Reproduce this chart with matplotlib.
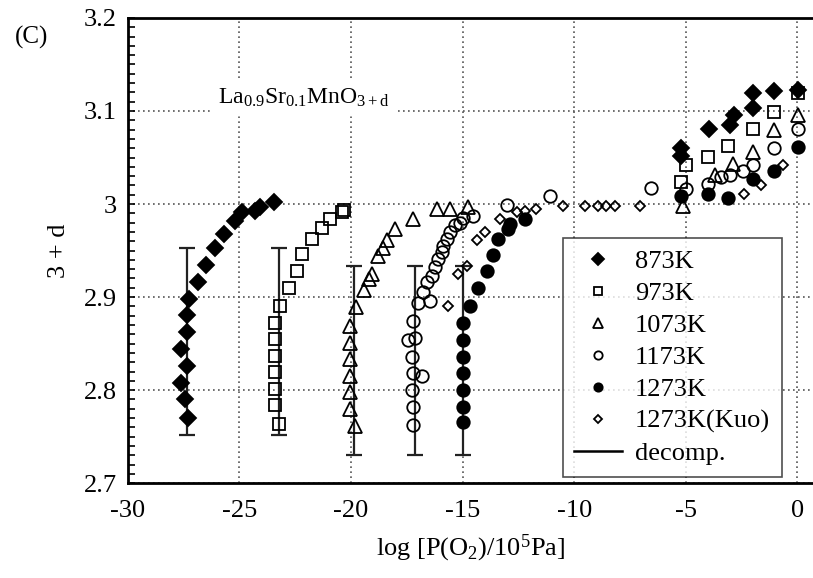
import numpy as np
import matplotlib
matplotlib.use("Agg")
import matplotlib.pyplot as plt
from matplotlib.lines import Line2D
from matplotlib.ticker import MultipleLocator

plt.rcParams['font.family'] = ['Liberation Serif', 'DejaVu Serif']
plt.rcParams['mathtext.fontset'] = 'custom'
plt.rcParams['mathtext.rm'] = 'Liberation Serif'
plt.rcParams['mathtext.it'] = 'Liberation Serif:italic'

# log pO2 and 3+d
x_873 = [-27.30, -27.41, -27.63, -27.36, -27.63, -27.36, -27.36, -27.26, -26.84, -26.47,
         -26.07, -25.69, -25.17, -24.87, -24.28, -24.05, -23.46,
         -5.20, -5.20, -3.94, -3.04, -2.82, -2.00, -2.00, -1.03, 0.01]
y_873 = [2.770, 2.790, 2.808, 2.826, 2.844, 2.862, 2.881, 2.898, 2.916, 2.934,
         2.953, 2.968, 2.982, 2.991, 2.993, 2.997, 3.002,
         3.060, 3.052, 3.081, 3.085, 3.096, 3.119, 3.103, 3.121, 3.123]

x_973 = [-23.24, -23.38, -23.38, -23.38, -23.38, -23.38, -23.38, -23.16, -22.79, -22.41,
         -22.19, -21.74, -21.30, -20.93, -20.40, -20.33,
         -5.20, -4.98, -4.01, -3.12, -2.00, -1.03, 0.01]
y_973 = [2.764, 2.784, 2.801, 2.819, 2.837, 2.855, 2.872, 2.890, 2.910, 2.928,
         2.946, 2.962, 2.974, 2.984, 2.991, 2.994,
         3.024, 3.042, 3.051, 3.062, 3.081, 3.099, 3.119]

x_1073 = [-19.81, -20.03, -20.03, -20.03, -20.03, -20.03, -20.03, -19.76, -19.43, -19.21,
          -19.06, -18.77, -18.54, -18.39, -18.02, -17.20, -16.16, -15.56, -14.74,
          -5.13, -3.71, -2.90, -2.00, -1.03, 0.01]
y_1073 = [2.761, 2.780, 2.798, 2.815, 2.833, 2.851, 2.869, 2.889, 2.908, 2.919,
          2.925, 2.944, 2.953, 2.961, 2.973, 2.984, 2.995, 2.995, 2.997,
          2.998, 3.031, 3.043, 3.056, 3.080, 3.096]

x_1173 = [-17.20, -17.20, -17.27, -17.20, -16.83, -17.27, -17.42, -17.13, -17.20, -16.98,
          -16.46, -16.76, -16.61, -16.38, -16.23, -16.08, -15.93, -15.86, -15.71, -15.56,
          -15.34, -15.11, -14.96, -14.51, -13.02, -11.09, -6.55,
          -4.98, -4.01, -3.42, -3.04, -2.45, -2.00, -1.03, 0.01]
y_1173 = [2.763, 2.782, 2.800, 2.818, 2.815, 2.836, 2.854, 2.856, 2.874, 2.894,
          2.896, 2.905, 2.916, 2.923, 2.932, 2.941, 2.948, 2.955, 2.962, 2.970,
          2.977, 2.980, 2.985, 2.987, 2.999, 3.009, 3.017,
          3.016, 3.022, 3.029, 3.031, 3.036, 3.042, 3.060, 3.081]

x_1273 = [-14.96, -14.96, -14.96, -14.96, -14.96, -14.96, -14.96, -14.67, -14.30, -13.92,
          -13.62, -13.40, -12.95, -12.88, -12.21,
          -5.20, -4.01, -3.12, -2.00, -1.03, 0.01]
y_1273 = [2.766, 2.782, 2.800, 2.818, 2.836, 2.854, 2.872, 2.890, 2.910, 2.928,
          2.945, 2.962, 2.973, 2.979, 2.984,
          3.009, 3.011, 3.007, 3.027, 3.036, 3.061]

x_kuo = [-15.64, -15.19, -14.81, -14.37, -14.00, -13.32, -12.58, -12.21, -11.69, -10.50,
         -9.53, -8.93, -8.56, -8.18, -7.07, -2.37, -1.63, -0.66]
y_kuo = [2.890, 2.925, 2.933, 2.961, 2.970, 2.984, 2.991, 2.993, 2.995, 2.998,
         2.998, 2.998, 2.998, 2.998, 2.998, 3.011, 3.020, 3.042]

# decomposition ranges
dec_x = [-27.33, -23.24, -19.85, -17.13, -14.97]
dec_lo = [2.752, 2.752, 2.730, 2.730, 2.730]
dec_hi = [2.953, 2.953, 2.933, 2.933, 2.933]

fig = plt.figure(figsize=(8.13, 5.78), dpi=100)
ax = fig.add_axes([0.157, 0.164, 0.843, 0.805])

dec_x = np.array(dec_x)
dec_lo = np.array(dec_lo)
dec_hi = np.array(dec_hi)
ax.errorbar(dec_x, (dec_lo + dec_hi) / 2, yerr=(dec_hi - dec_lo) / 2, fmt='none',
            ecolor='#222222', elinewidth=1.6, capsize=6, capthick=1.6, zorder=2)

mk = dict(linestyle='none', color='black', markeredgewidth=1.3, zorder=3)
ax.plot(x_873, y_873, marker='D', ms=8, mfc='black', **mk)
ax.plot(x_973, y_973, marker='s', ms=8.5, mfc='none', **mk)
ax.plot(x_1073, y_1073, marker='^', ms=10.5, mfc='none', **mk)
ax.plot(x_1173, y_1173, marker='o', ms=9, mfc='none', **mk)
ax.plot(x_1273, y_1273, marker='o', ms=9, mfc='black', **mk)
ax.plot(x_kuo, y_kuo, marker='D', ms=5, mfc='none', **mk)

ax.set_xlim(-30, 0.7)
ax.set_ylim(2.7, 3.2)
ax.set_xticks([-30, -25, -20, -15, -10, -5, 0])
ax.set_xticklabels(['-30', '-25', '-20', '-15', '-10', '-5', '0'])
ax.set_yticks([2.7, 2.8, 2.9, 3.0, 3.1, 3.2])
ax.set_yticklabels(['2.7', '2.8', '2.9', '3', '3.1', '3.2'])
ax.yaxis.set_minor_locator(MultipleLocator(0.01))
ax.tick_params(axis='y', which='both', direction='in', length=5, width=1.2, labelsize=19, pad=8)
ax.tick_params(axis='x', which='both', length=0, labelsize=19, pad=12)
ax.grid(True, which='major', linestyle=(0, (1, 2)), color='#555555', linewidth=1.2)
ax.set_axisbelow(True)

for s in ['left', 'bottom', 'top']:
    ax.spines[s].set_linewidth(2)
ax.spines['right'].set_visible(False)

ax.set_xlabel('log [P(O$_2$)/10$^5$Pa]', fontsize=19, labelpad=8)
ax.set_ylabel('3 + d', fontsize=19, labelpad=10)

ax.text(-25.95, 3.114, r'La$_{\mathrm{0.9}}$Sr$_{\mathrm{0.1}}$MnO$_{\mathrm{3+d}}$',
        fontsize=17, va='center', ha='left', backgroundcolor='white')
fig.text(0.018, 0.925, '(C)', fontsize=18)

handles = [
    Line2D([], [], marker='D', ms=6, mfc='black', **mk),
    Line2D([], [], marker='s', ms=6, mfc='none', **mk),
    Line2D([], [], marker='^', ms=6.5, mfc='none', **mk),
    Line2D([], [], marker='o', ms=6, mfc='none', **mk),
    Line2D([], [], marker='o', ms=6, mfc='black', **mk),
    Line2D([], [], marker='D', ms=4.5, mfc='none', **mk),
    Line2D([], [], color='black', linewidth=1.8),
]
labels = ['873K', '973K', '1073K', '1173K', '1273K', '1273K(Kuo)', 'decomp.']
leg = ax.legend(handles, labels, loc='lower right', bbox_to_anchor=(0.955, 0.013),
                borderaxespad=0, fontsize=19, frameon=True, fancybox=False,
                handlelength=1.8, handletextpad=0.5, labelspacing=0.32, borderpad=0.45)
leg.get_frame().set_edgecolor('#222222')
leg.get_frame().set_linewidth(1.2)

fig.savefig('out.png', dpi=100)
